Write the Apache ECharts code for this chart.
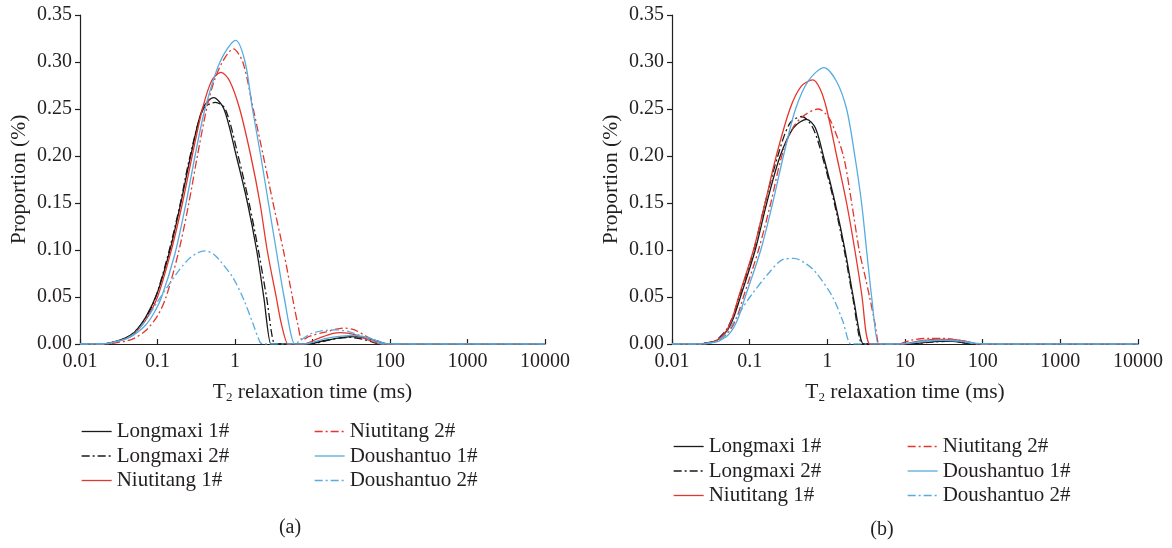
<!DOCTYPE html>
<html>
<head>
<meta charset="utf-8">
<script src="https://cdn.jsdelivr.net/npm/echarts@6/dist/echarts.min.js"></script>
<style>
    html, body { margin: 0; padding: 0; background: #fff; }
    #chart { width: 1172px; height: 548px; }
</style>
</head>
<body>
<div id="chart"></div>
<script>
// T2 spectra, points are [T2 (ms), proportion]
var seriesNames = ['Longmaxi 1#', 'Longmaxi 2#', 'Niutitang 1#', 'Niutitang 2#', 'Doushantuo 1#', 'Doushantuo 2#'];
var xTickLabels = ['0.01', '0.1', '1', '10', '100', '1000', '10000'];
var yTickLabels = ['0.00', '0.05', '0.10', '0.15', '0.20', '0.25', '0.30', '0.35'];
var panelLabels = ['(a)', '(b)'];

// panel (a)
var aLongmaxi1 = [[0.01, 0], [0.02, 0], [0.025, 0.0015], [0.03, 0.003], [0.04, 0.007], [0.05, 0.012], [0.07, 0.028], [0.1, 0.055], [0.145, 0.1], [0.2, 0.15], [0.268, 0.2], [0.38, 0.25], [0.53, 0.262], [0.72, 0.25], [1.04, 0.2], [1.45, 0.15], [1.9, 0.1], [2.35, 0.05], [2.9, 0], [3.0, 0], [8.5, 0], [15, 0.004], [25, 0.007], [35, 0.008], [50, 0.006], [70, 0.003], [95, 0], [100, 0], [10000, 0]];
var aLongmaxi2 = [[0.01, 0], [0.02, 0], [0.025, 0.0015], [0.03, 0.003], [0.04, 0.0068], [0.05, 0.0125], [0.07, 0.027], [0.095, 0.05], [0.14, 0.098], [0.195, 0.148], [0.26, 0.198], [0.39, 0.25], [0.56, 0.257], [0.75, 0.25], [1.1, 0.2], [1.52, 0.15], [2.0, 0.1], [2.55, 0.05], [3.25, 0], [3.35, 0], [9, 0], [18, 0.005], [30, 0.007], [45, 0.005], [65, 0.001], [75, 0], [80, 0], [10000, 0]];
var aNiutitang1 = [[0.01, 0], [0.02, 0], [0.025, 0.0013], [0.03, 0.0026], [0.04, 0.006], [0.05, 0.011], [0.07, 0.025], [0.1, 0.05], [0.15, 0.099], [0.21, 0.15], [0.28, 0.2], [0.38, 0.25], [0.5, 0.28], [0.66, 0.289], [0.85, 0.28], [1.15, 0.25], [1.6, 0.2], [2.1, 0.15], [2.6, 0.1], [3.4, 0.05], [4.0, 0.02], [4.8, 0], [4.9, 0], [7.5, 0], [12, 0.006], [18, 0.011], [23, 0.012], [35, 0.01], [50, 0.005], [70, 0.001], [80, 0], [85, 0], [10000, 0]];
var aNiutitang2 = [[0.01, 0], [0.022, 0], [0.03, 0.0015], [0.04, 0.0032], [0.05, 0.006], [0.07, 0.014], [0.1, 0.03], [0.129, 0.05], [0.186, 0.097], [0.25, 0.147], [0.327, 0.2], [0.43, 0.25], [0.54, 0.28], [0.71, 0.302], [0.95, 0.314], [1.26, 0.3], [1.72, 0.25], [2.32, 0.2], [3.1, 0.15], [4.2, 0.1], [5.5, 0.05], [6.5, 0.02], [7.4, 0.004], [9, 0.008], [15, 0.013], [25, 0.017], [35, 0.015], [50, 0.008], [70, 0.002], [80, 0], [85, 0], [10000, 0]];
var aDoushantuo1 = [[0.01, 0], [0.02, 0], [0.025, 0.0013], [0.03, 0.0027], [0.04, 0.0057], [0.05, 0.01], [0.07, 0.02], [0.09, 0.033], [0.113, 0.05], [0.168, 0.096], [0.231, 0.148], [0.305, 0.2], [0.41, 0.25], [0.64, 0.3], [1.02, 0.323], [1.35, 0.3], [1.68, 0.25], [2.15, 0.2], [2.7, 0.15], [3.4, 0.1], [4.3, 0.05], [5.9, 0], [6.1, 0], [8, 0], [15, 0.006], [30, 0.009], [45, 0.008], [70, 0.003], [95, 0], [100, 0], [10000, 0]];
var aDoushantuo2 = [[0.01, 0], [0.02, 0], [0.025, 0.0013], [0.03, 0.0027], [0.04, 0.006], [0.05, 0.011], [0.07, 0.025], [0.1, 0.045], [0.14, 0.063], [0.18, 0.076], [0.25, 0.09], [0.33, 0.097], [0.41, 0.099], [0.52, 0.096], [0.65, 0.088], [0.95, 0.07], [1.3, 0.047], [1.7, 0.022], [2.1, 0.002], [2.3, 0], [5, 0], [6.5, 0.002], [9, 0.01], [13, 0.014], [20, 0.015], [30, 0.013], [45, 0.008], [65, 0.002], [80, 0], [85, 0], [10000, 0]];

// panel (b)
var bLongmaxi1 = [[0.01, 0], [0.022, 0], [0.03, 0.0015], [0.038, 0.004], [0.051, 0.014], [0.062, 0.028], [0.076, 0.05], [0.118, 0.1], [0.166, 0.15], [0.247, 0.2], [0.366, 0.23], [0.54, 0.239], [0.7, 0.23], [0.89, 0.2], [1.26, 0.15], [1.69, 0.1], [2.16, 0.05], [2.9, 0], [3.0, 0], [12, 0], [20, 0.002], [35, 0.003], [50, 0.002], [70, 0], [75, 0], [10000, 0]];
var bLongmaxi2 = [[0.01, 0], [0.022, 0], [0.03, 0.0016], [0.037, 0.004], [0.05, 0.015], [0.061, 0.03], [0.073, 0.05], [0.113, 0.1], [0.158, 0.15], [0.23, 0.2], [0.33, 0.235], [0.47, 0.242], [0.65, 0.23], [0.86, 0.2], [1.23, 0.15], [1.65, 0.1], [2.12, 0.05], [2.8, 0], [2.9, 0], [12, 0], [22, 0.002], [40, 0.003], [60, 0.001], [70, 0], [75, 0], [10000, 0]];
var bNiutitang1 = [[0.01, 0], [0.022, 0], [0.03, 0.0015], [0.038, 0.004], [0.05, 0.014], [0.06, 0.028], [0.072, 0.05], [0.112, 0.1], [0.158, 0.15], [0.22, 0.2], [0.33, 0.25], [0.46, 0.274], [0.65, 0.281], [0.8, 0.272], [0.98, 0.25], [1.32, 0.2], [1.77, 0.15], [2.26, 0.1], [2.8, 0.05], [3.15, 0.012], [3.5, 0], [3.6, 0], [9, 0], [15, 0.003], [25, 0.005], [40, 0.005], [60, 0.003], [85, 0], [90, 0], [10000, 0]];
var bNiutitang2 = [[0.01, 0], [0.024, 0], [0.032, 0.0015], [0.04, 0.004], [0.055, 0.014], [0.068, 0.028], [0.083, 0.05], [0.13, 0.1], [0.187, 0.15], [0.259, 0.2], [0.36, 0.23], [0.5, 0.243], [0.77, 0.25], [0.95, 0.245], [1.14, 0.235], [1.61, 0.2], [2.06, 0.15], [2.57, 0.1], [3.1, 0.07], [3.5, 0.05], [4.1, 0.022], [4.6, 0], [4.7, 0], [8, 0], [12, 0.004], [20, 0.006], [30, 0.006], [50, 0.004], [75, 0.001], [90, 0], [95, 0], [10000, 0]];
var bDoushantuo1 = [[0.01, 0], [0.024, 0], [0.032, 0.0013], [0.04, 0.003], [0.055, 0.011], [0.07, 0.026], [0.0875, 0.05], [0.139, 0.1], [0.198, 0.15], [0.272, 0.2], [0.39, 0.25], [0.57, 0.28], [0.906, 0.294], [1.3, 0.28], [1.77, 0.25], [2.26, 0.2], [2.76, 0.15], [3.2, 0.1], [3.72, 0.05], [4.5, 0], [4.6, 0], [9, 0], [15, 0.002], [30, 0.004], [50, 0.003], [80, 0.001], [100, 0], [110, 0], [10000, 0]];
var bDoushantuo2 = [[0.01, 0], [0.024, 0], [0.032, 0.0015], [0.04, 0.004], [0.05, 0.011], [0.059, 0.02], [0.075, 0.034], [0.101, 0.05], [0.174, 0.075], [0.27, 0.09], [0.373, 0.091], [0.54, 0.085], [0.73, 0.075], [1.17, 0.05], [1.57, 0.025], [2.0, 0], [2.1, 0], [9, 0], [15, 0.003], [25, 0.004], [40, 0.004], [60, 0.002], [85, 0], [90, 0], [10000, 0]];

var panelData = [
    [aLongmaxi1, aLongmaxi2, aNiutitang1, aNiutitang2, aDoushantuo1, aDoushantuo2],
    [bLongmaxi1, bLongmaxi2, bNiutitang1, bNiutitang2, bDoushantuo1, bDoushantuo2]
];

var FONT = '"Liberation Serif", "Times New Roman", serif';
var INK = '#231f20';
var lineColors = ['#1a1a1a', '#1a1a1a', '#e5352c', '#e5352c', '#55ace0', '#55ace0'];
var dashDot = [8, 3, 2, 3];
var lineTypes = ['solid', dashDot, 'solid', dashDot, 'solid', dashDot];

var grids = [
    { left: 80, right: 627, top: 15, bottom: 204 },
    { left: 672, right: 34, top: 15, bottom: 204 }
];

function makeXAxis(i) {
    return {
        type: 'log', logBase: 10, min: 0.01, max: 10000, gridIndex: i,
        axisLine: { lineStyle: { color: INK, width: 1.2 } },
        axisTick: { inside: true, length: 5, lineStyle: { color: INK, width: 1.2 } },
        axisLabel: {
            fontFamily: FONT, fontSize: 20, color: INK, margin: 8,
            formatter: function (v) { return xTickLabels[Math.round(Math.log10(v)) + 2]; }
        },
        splitLine: { show: false },
        name: '{t|T}{s|2}{t| relaxation time (ms)}',
        nameLocation: 'middle', nameGap: 36,
        nameTextStyle: {
            color: INK,
            rich: {
                t: { fontFamily: FONT, fontSize: 21.5, color: INK },
                s: { fontFamily: FONT, fontSize: 13, color: INK, padding: [11, 0, 0, 0] }
            }
        }
    };
}

function makeYAxis(i) {
    return {
        type: 'value', min: 0, max: 0.35, interval: 0.05, gridIndex: i,
        axisLine: { show: true, lineStyle: { color: INK, width: 1.2 } },
        axisTick: { show: true, inside: false, length: 5, lineStyle: { color: INK, width: 1.2 } },
        axisLabel: {
            fontFamily: FONT, fontSize: 20, color: INK, margin: 8,
            formatter: function (v) { return yTickLabels[Math.round(v / 0.05)]; }
        },
        splitLine: { show: false },
        name: 'Proportion (%)', nameLocation: 'middle', nameRotate: 90, nameGap: 50,
        nameTextStyle: { fontFamily: FONT, fontSize: 21.5, color: INK }
    };
}

var series = [];
for (var p = 0; p < 2; p++) {
    for (var k = 0; k < seriesNames.length; k++) {
        series.push({
            name: seriesNames[k],
            type: 'line',
            xAxisIndex: p, yAxisIndex: p,
            data: panelData[p][k],
            symbol: 'none',
            smooth: 0.3,
            itemStyle: { color: lineColors[k] },
            lineStyle: { color: lineColors[k], width: 1.3, type: lineTypes[k] }
        });
    }
}

// two legend columns under each panel, symbol hidden so only the line shows
function makeLegend(names, left, top) {
    return {
        data: names, orient: 'vertical', left: left, top: top, padding: 0,
        itemWidth: 30, itemHeight: 10, itemGap: 3.5,
        selectedMode: false,
        itemStyle: { opacity: 0 },
        lineStyle: { width: 1.3 },
        textStyle: { fontFamily: FONT, fontSize: 21, color: INK, lineHeight: 19 }
    };
}

var option = {
    animation: false,
    backgroundColor: '#fff',
    grid: grids,
    xAxis: [makeXAxis(0), makeXAxis(1)],
    yAxis: [makeYAxis(0), makeYAxis(1)],
    legend: [
        makeLegend(seriesNames.slice(0, 3), 81, 421),
        makeLegend(seriesNames.slice(3), 314, 421),
        makeLegend(seriesNames.slice(0, 3), 673, 436),
        makeLegend(seriesNames.slice(3), 907, 436)
    ],
    graphic: [
        { type: 'text', x: 290, y: 528, style: { text: panelLabels[0], font: '20px ' + FONT, fill: INK, align: 'center', verticalAlign: 'middle' } },
        { type: 'text', x: 882, y: 530, style: { text: panelLabels[1], font: '20px ' + FONT, fill: INK, align: 'center', verticalAlign: 'middle' } }
    ],
    series: series
};

var myChart = echarts.init(document.getElementById('chart'));
myChart.setOption(option);
</script>
</body>
</html>
